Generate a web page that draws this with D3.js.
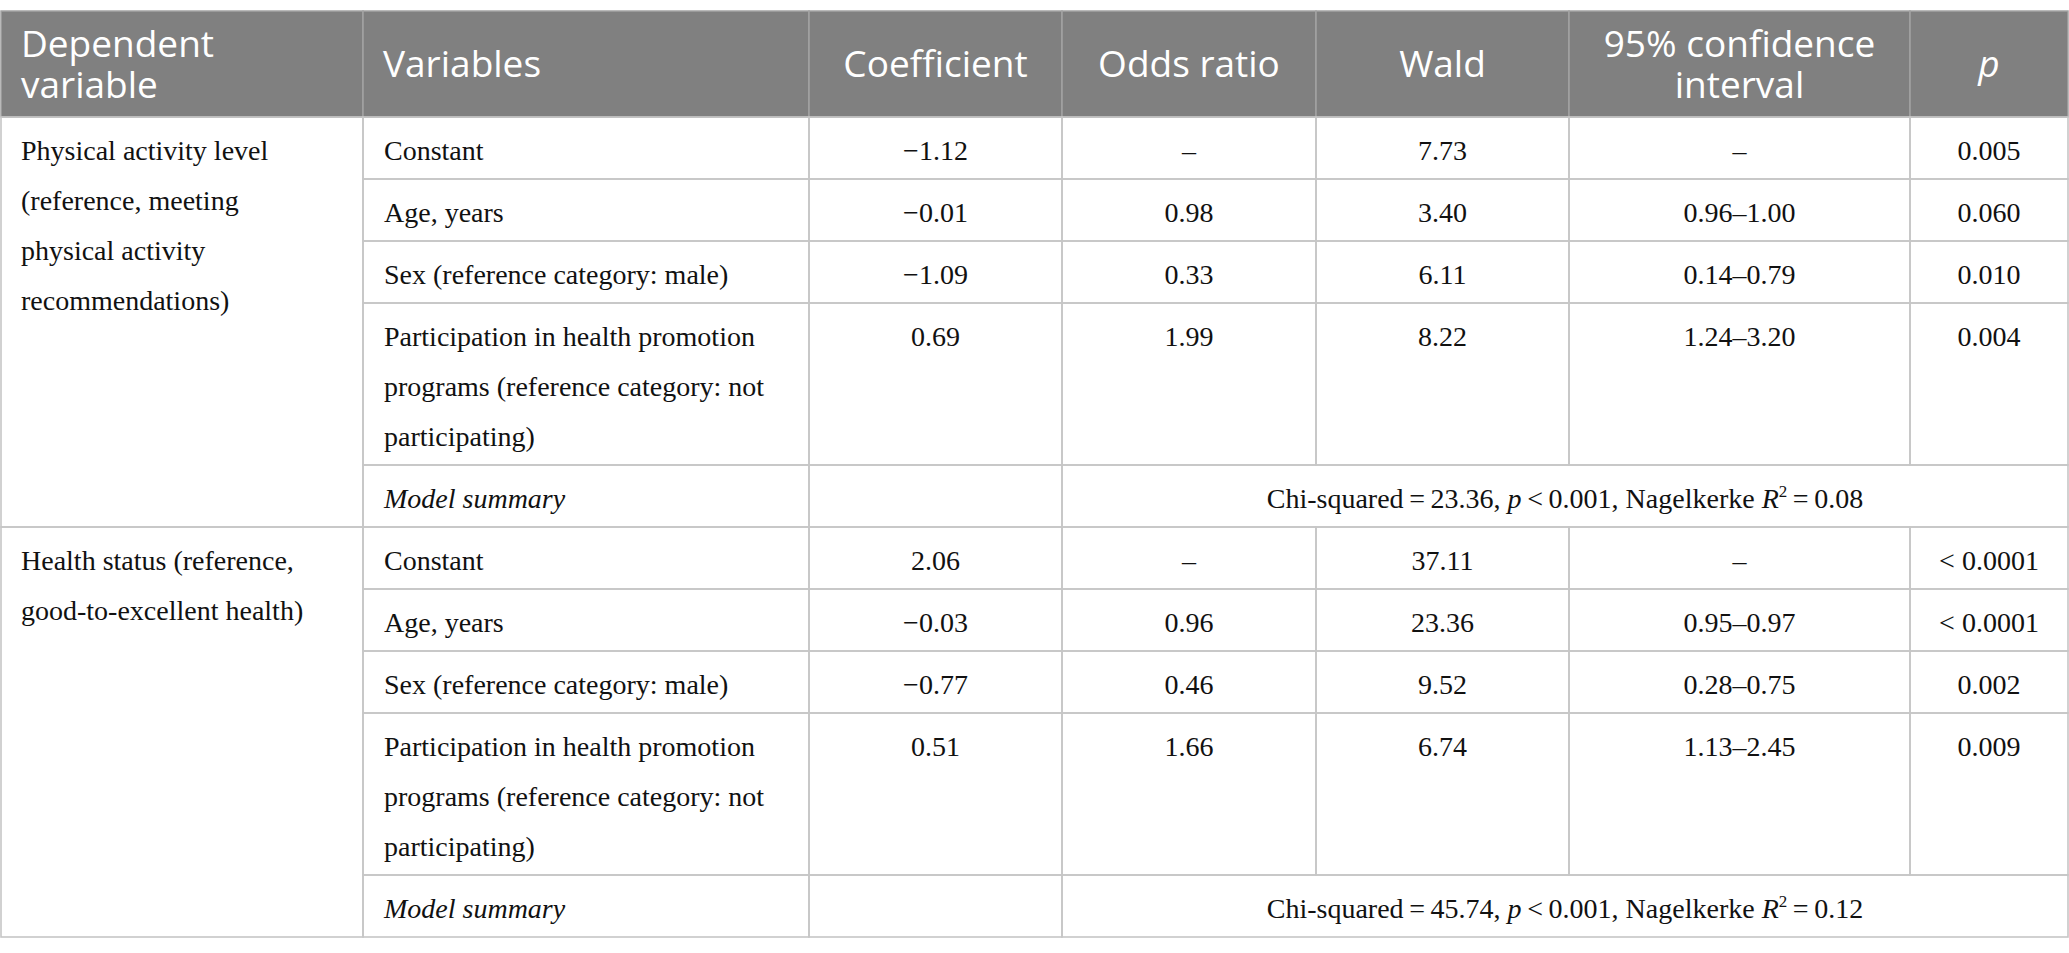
<!DOCTYPE html>
<html>
<head>
<meta charset="utf-8">
<script src="https://cdn.jsdelivr.net/npm/d3@7"></script>
<style>
  body { margin: 0; background: #fff; }
  .head { font-family: "Open Sans", "Noto Sans", sans-serif; fill: #fff; }
  .body { font-family: "Liberation Serif", "DejaVu Serif", serif; fill: #111; }
</style>
</head>
<body>
<div id="chart"></div>
<script>
// column headers (\n = line break)
const headers = ["Dependent\nvariable", "Variables", "Coefficient", "Odds ratio", "Wald", "95% confidence\ninterval", "p"];

// dependent variable labels, already broken into lines as in the table
const dependents = [
    ["Physical activity level", "(reference, meeting", "physical activity", "recommendations)"],
    ["Health status (reference,", "good-to-excellent health)"]
];

const variables = [
    ["Constant"],
    ["Age, years"],
    ["Sex (reference category: male)"],
    ["Participation in health promotion", "programs (reference category: not", "participating)"]
];

const coefficient = [["\u22121.12", "\u22120.01", "\u22121.09", "0.69"], ["2.06", "\u22120.03", "\u22120.77", "0.51"]];
const oddsRatio = [["\u2013", "0.98", "0.33", "1.99"], ["\u2013", "0.96", "0.46", "1.66"]];
const wald = [["7.73", "3.40", "6.11", "8.22"], ["37.11", "23.36", "9.52", "6.74"]];
const confInt = [["\u2013", "0.96\u20131.00", "0.14\u20130.79", "1.24\u20133.20"], ["\u2013", "0.95\u20130.97", "0.28\u20130.75", "1.13\u20132.45"]];
const pValue = [["0.005", "0.060", "0.010", "0.004"], ["< 0.0001", "< 0.0001", "0.002", "0.009"]];

// model summary per group
const chiSquared = ["23.36", "45.74"];
const modelP = ["0.001", "0.001"];
const nagelkerke = ["0.08", "0.12"];

const width = 2069, height = 953;
const colWidths = [362, 446, 253, 254, 253, 341, 158];
const tableLeft = 1, tableTop = 11, headH = 106;
const lineH = 50, pad = 12, baseOff = 43;
const grid = "#c6c6c6";

const colX = [tableLeft, ...d3.cumsum(colWidths).map(d => d + tableLeft)];
const cx = i => (colX[i] + colX[i + 1]) / 2;

let svg = d3.select("#chart").append("svg")
    .attr("width", width).attr("height", height)
    .attr("viewBox", [0, 0, width, height]);

// ---- header ----
let head = svg.append("g");
head.selectAll("rect")
    .data(headers)
    .join("rect")
    .attr("x", (d, i) => colX[i])
    .attr("y", tableTop)
    .attr("width", (d, i) => colWidths[i])
    .attr("height", headH)
    .attr("fill", "#808080")
    .attr("stroke", "#a3a3a3")
    .attr("stroke-width", 1.5);

head.selectAll("text")
    .data(headers)
    .join("text")
    .attr("class", "head")
    .attr("font-size", 37)
    .attr("font-style", d => d === "p" ? "italic" : null)
    .attr("text-anchor", (d, i) => i < 2 ? "start" : "middle")
    .attr("x", (d, i) => i < 2 ? colX[i] + 20 : cx(i))
    .attr("y", tableTop + headH / 2 + 13)
    .each(function(d) {
        let lines = d.split("\n");
        let t = d3.select(this);
        lines.forEach((l, k) => {
            t.append("tspan")
                .attr("x", t.attr("x"))
                .attr("dy", k === 0 ? -(lines.length - 1) * 20.5 : 41)
                .text(l);
        });
    });

// ---- body rows ----
let rowLines = variables.map(v => v.length);
let y = tableTop + headH;
let body = svg.append("g").attr("class", "body").attr("font-size", 28);

const cell = (x, yy, w, h) => body.append("rect")
    .attr("x", x).attr("y", yy).attr("width", w).attr("height", h)
    .attr("fill", "none").attr("stroke", grid).attr("stroke-width", 1.6);

const multi = (lines, x, yy, anchor) => {
    let t = body.append("text").attr("text-anchor", anchor);
    lines.forEach((l, k) => t.append("tspan").attr("x", x).attr("y", yy + baseOff + k * lineH).text(l));
    return t;
};

dependents.forEach((dep, g) => {
    let groupTop = y;
    let cols = [coefficient[g], oddsRatio[g], wald[g], confInt[g], pValue[g]];

    variables.forEach((v, r) => {
        let h = pad + rowLines[r] * lineH;
        for (let c = 1; c < 7; c++) cell(colX[c], y, colWidths[c], h);
        multi(v, colX[1] + 21, y, "start");
        cols.forEach((vals, c) => multi([vals[r]], cx(c + 2), y, "middle"));
        y += h;
    });

    // model summary row
    let h = pad + lineH;
    cell(colX[1], y, colWidths[1], h);
    cell(colX[2], y, colWidths[2], h);
    cell(colX[3], y, colX[7] - colX[3], h);
    body.append("text")
        .attr("x", colX[1] + 21).attr("y", y + baseOff)
        .attr("font-style", "italic")
        .text("Model summary");

    let s = body.append("text")
        .attr("x", (colX[3] + colX[7]) / 2).attr("y", y + baseOff)
        .attr("text-anchor", "middle");
    s.append("tspan").text(`Chi-squared\u2009=\u2009${chiSquared[g]}, `);
    s.append("tspan").attr("font-style", "italic").text("p");
    s.append("tspan").text(`\u2009<\u2009${modelP[g]}, Nagelkerke `);
    s.append("tspan").attr("font-style", "italic").text("R");
    s.append("tspan").attr("font-size", 17).attr("dy", -11).text("2");
    s.append("tspan").attr("dy", 11).text(`\u2009=\u2009${nagelkerke[g]}`);
    y += h;

    // dependent variable spans the whole group
    cell(colX[0], groupTop, colWidths[0], y - groupTop);
    multi(dep, colX[0] + 20, groupTop, "start");
});
</script>
</body>
</html>
